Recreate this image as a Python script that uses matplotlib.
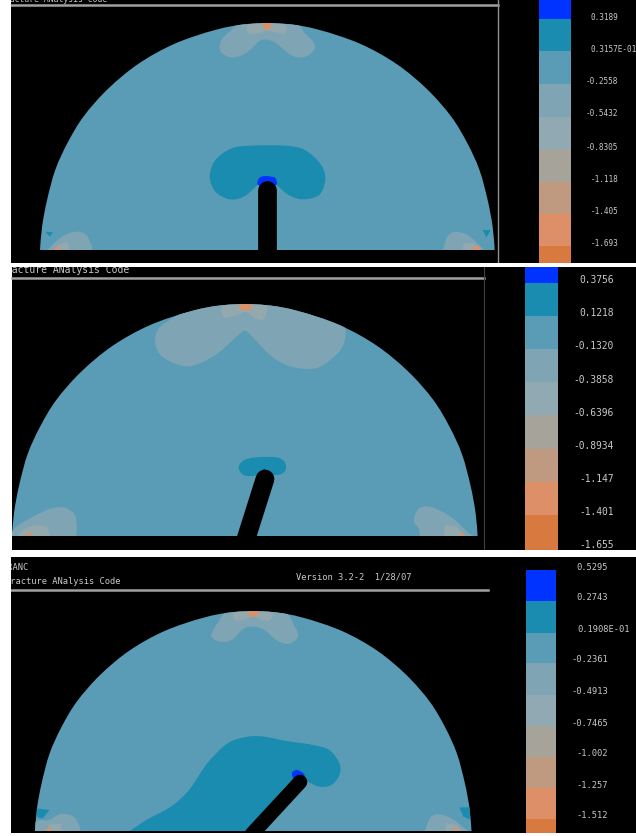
import matplotlib
matplotlib.use('Agg')
import matplotlib.pyplot as plt
from matplotlib.patches import Polygon, PathPatch, Rectangle
from matplotlib.path import Path

# contour colours, top of the colour bar to the bottom
band_colors = ['#0033ff', '#1a8cb0', '#5a9bb5', '#7fa5b5', '#90a9b2',
               '#a5a39a', '#c09a80', '#dd9068', '#d87a40']
BG = '#5a9bb5'
TEAL = '#1a8cb0'
BLUE = '#0033ff'
LOBE = '#7fa5b5'
PALE = '#93a9ae'
ORANGE = '#dd9068'
TXT = '#c9c9c9'
MONO = 'DejaVu Sans Mono'

# dome profile (left half, mirrored below)
dome_u = [-1.0, -0.991, -0.969, -0.933, -0.88, -0.809, -0.702, -0.567, -0.407, -0.228, -0.085]
dome_v = [0.0, 0.103, 0.221, 0.354, 0.472, 0.59, 0.712, 0.824, 0.913, 0.974, 1.0]

# everything below is in crop units: x / 2.46, y / 3 + crop offset
# ---- panel 1
p1_labels = ['0.3189', '0.3157E-01', '-0.2558', '-0.5432', '-0.8305', '-1.118', '-1.405', '-1.693']
p1_label_y = [17, 49, 82, 114, 147, 179, 211, 244]
p1_edges = [0, 19, 51, 84, 117, 149, 182, 214, 246, 264]
p1_lobes = [(545, 120), (541, 150), (560, 170), (585, 170), (610, 155), (640, 122), (660, 120), (680, 130),
            (715, 165), (745, 172), (770, 155), (773, 130), (750, 100), (720, 70), (600, 70), (565, 95)]
p1_inner = [(612, 100), (640, 98), (655, 92), (700, 100), (695, 72), (615, 72)]
p1_tip = [(645, 68), (668, 68), (665, 88), (650, 88)]
p1_teal = [(516, 530), (530, 480), (570, 445), (620, 437), (700, 437), (750, 450), (790, 495), (800, 540),
           (785, 585), (745, 598), (710, 585), (680, 555), (655, 540), (634, 555), (600, 590), (565, 598), (530, 575)]
p1_blue = [(637, 535), (650, 528), (668, 530), (678, 535), (678, 556), (636, 556)]
p1_left = [(118, 770), (125, 740), (160, 705), (195, 695), (218, 715), (220, 770)]
p1_left_in = [(135, 770), (140, 738), (165, 725), (178, 770)]
p1_left_tip = [(125, 760), (140, 738), (158, 760)]
p1_left_tri = [(112, 695), (130, 697), (122, 710)]
p1_right = [(1097, 770), (1097, 720), (1115, 697), (1150, 705), (1190, 750), (1195, 770)]
p1_right_in = [(1135, 770), (1140, 730), (1165, 730), (1190, 770)]
p1_right_tip = [(1150, 760), (1175, 735), (1190, 760)]
p1_right_tri = [(1187, 690), (1207, 690), (1197, 712)]

# ---- panel 2
p2_labels = ['0.3756', '0.1218', '-0.1320', '-0.3858', '-0.6396', '-0.8934', '-1.147', '-1.401', '-1.655']
p2_label_y = [280, 313.5, 346, 380, 413, 446, 479, 512, 545]
p2_edges = [267, 283, 316, 349, 382, 415, 449, 482, 515, 550]
p2_lobes = [(430, 165), (390, 200), (382, 245), (400, 285), (450, 312), (490, 305), (540, 270), (590, 215),
            (605, 207), (625, 230), (670, 285), (720, 315), (780, 318), (830, 275), (848, 235), (845, 190),
            (790, 140), (700, 115), (560, 115), (490, 125)]
p2_inner = [(550, 165), (580, 160), (605, 150), (630, 170), (650, 170), (650, 125), (555, 125)]
p2_tip = [(585, 124), (622, 124), (615, 145), (595, 145)]
p2_teal = [(587, 615), (600, 595), (630, 586), (680, 586), (700, 600), (703, 622), (690, 637), (660, 640),
           (640, 640), (610, 642), (595, 635)]
p2_blue = [(640, 630), (650, 620), (662, 632), (640, 640)]
p2_left = [(25, 840), (35, 800), (80, 765), (130, 738), (165, 740), (187, 770), (170, 840)]
p2_left_in = [(45, 840), (55, 805), (90, 790), (118, 800), (115, 840)]
p2_left_tip = [(55, 830), (70, 810), (85, 830)]
p2_right = [(1018, 775), (1030, 740), (1060, 735), (1110, 765), (1150, 810), (1175, 840), (1050, 840), (1030, 800)]
p2_right_in = [(1090, 840), (1095, 790), (1125, 795), (1155, 840)]
p2_right_tip = [(1125, 830), (1137, 810), (1148, 830)]

# ---- panel 3
p3_labels = ['0.5295', '0.2743', '0.1908E-01', '-0.2361', '-0.4913', '-0.7465', '-1.002', '-1.257', '-1.512']
p3_label_y = [568, 598, 630, 660, 692, 723, 753.5, 785, 815.5]
p3_edges = [570, 601, 633, 663, 695, 726, 757, 788, 819, 833]
p3_lobes = [(525, 240), (520, 260), (540, 275), (570, 270), (600, 235), (625, 230), (650, 240), (680, 270),
            (710, 282), (733, 260), (725, 230), (690, 180), (570, 180), (535, 220)]
p3_inner = [(580, 212), (610, 205), (625, 200), (660, 213), (665, 182), (580, 182)]
p3_tip = [(608, 180), (638, 180), (632, 200), (615, 200)]
p3_teal = [(290, 860), (320, 842), (360, 810), (420, 770), (465, 720), (510, 640), (560, 580), (610, 560),
           (650, 560), (700, 572), (770, 585), (810, 600), (835, 640), (835, 675), (815, 705), (785, 710),
           (755, 695), (720, 690), (660, 770), (610, 860)]
p3_blue = [(718, 670), (730, 660), (748, 672), (745, 685), (725, 688)]
p3_left = [(80, 860), (88, 815), (120, 810), (150, 792), (185, 805), (190, 860)]
p3_left_in = [(105, 860), (120, 825), (150, 820), (155, 860)]
p3_left_tip = [(110, 850), (120, 830), (132, 850)]
p3_left_tri = [(88, 775), (122, 780), (105, 805), (92, 802)]
p3_right = [(1055, 860), (1055, 810), (1075, 793), (1110, 805), (1150, 842), (1165, 860)]
p3_right_in = [(1095, 860), (1098, 820), (1125, 825), (1145, 860)]
p3_right_tip = [(1112, 850), (1122, 830), (1135, 850)]
p3_right_tri = [(1130, 772), (1157, 772), (1155, 808), (1140, 800)]

KX = 2.46


def px(points, off):
    return [(x / KX, y / 3 + off) for x, y in points]


def spline(points, closed=True):
    # catmull-rom through the outline points, as bezier segments
    n = len(points)
    verts = [points[0]]
    codes = [Path.MOVETO]
    for i in range(n if closed else n - 1):
        if closed:
            p0, p1, p2, p3 = points[i - 1], points[i], points[(i + 1) % n], points[(i + 2) % n]
        else:
            p0, p1, p2, p3 = points[max(i - 1, 0)], points[i], points[i + 1], points[min(i + 2, n - 1)]
        verts.append((p1[0] + (p2[0] - p0[0]) / 6, p1[1] + (p2[1] - p0[1]) / 6))
        verts.append((p2[0] - (p3[0] - p1[0]) / 6, p2[1] - (p3[1] - p1[1]) / 6))
        verts.append(p2)
        codes += [Path.CURVE4, Path.CURVE4, Path.CURVE4]
    if not closed:
        verts.append(points[0])
        codes.append(Path.CLOSEPOLY)
    return Path(verts, codes)


def draw_dome(ax, left, right, top, base):
    cx = (left + right) / 2
    hw = (right - left) / 2
    xs = [cx + u * hw for u in dome_u] + [cx - u * hw for u in dome_u[::-1]]
    ys = [base - v * (base - top) for v in dome_v] + [base - v * (base - top) for v in dome_v[::-1]]
    dome = PathPatch(spline(list(zip(xs, ys)), closed=False), fc=BG, ec='none', zorder=2)
    ax.add_patch(dome)
    return dome


def add_shape(ax, points, off, color, dome, zorder=3):
    pts = px(points, off)
    if len(pts) > 4:
        p = PathPatch(spline(pts), fc=color, ec='none', zorder=zorder)
    else:
        p = Polygon(pts, closed=True, fc=color, ec='none', zorder=zorder)
    ax.add_patch(p)
    p.set_clip_path(dome)


def colorbar(ax, x0, x1, edges, labels, label_y, right, size, extra):
    for i in range(len(edges) - 1):
        ax.bar((x0 + x1) / 2, edges[i + 1] - edges[i], width=x1 - x0, bottom=edges[i],
               color=band_colors[i], zorder=2)
    for lab, y in zip(labels, label_y):
        xr = right + extra if 'E-' in lab else right
        ax.text(xr, y, lab, color=TXT, fontsize=size, family=MONO, ha='right', va='center', zorder=6)


fig = plt.figure(figsize=(6.36, 8.36), dpi=100, facecolor='white')
ax = fig.add_axes([0, 0, 1, 1])
ax.set_xlim(0, 636)
ax.set_ylim(836, 0)
ax.axis('off')

# black screens
ax.add_patch(Rectangle((11, 0), 625, 263, fc='black', ec='none', zorder=1))
ax.add_patch(Rectangle((12, 267), 624, 283, fc='black', ec='none', zorder=1))
ax.add_patch(Rectangle((11, 557), 625, 276, fc='black', ec='none', zorder=1))

# ---- panel 1
dome = draw_dome(ax, 40, 494.7, 24, 250)
for pts, col, z in [(p1_lobes, LOBE, 3), (p1_inner, PALE, 4), (p1_tip, ORANGE, 5), (p1_teal, TEAL, 3),
                    (p1_blue, BLUE, 4), (p1_left, LOBE, 3), (p1_left_in, PALE, 4), (p1_left_tip, ORANGE, 5),
                    (p1_left_tri, TEAL, 3), (p1_right, LOBE, 3), (p1_right_in, PALE, 4),
                    (p1_right_tip, ORANGE, 5), (p1_right_tri, TEAL, 3)]:
    add_shape(ax, pts, 0, col, dome, z)
ax.plot([267, 267], [250, 189.5], color='black', lw=13.5, solid_capstyle='round', zorder=6)
ax.add_patch(Rectangle((11, 250), 487, 13, fc='black', ec='none', zorder=7))
ax.plot([11, 498], [5, 5], color='#a0a0a0', lw=1.8, zorder=7)
ax.plot([498, 498], [0, 263], color='#909090', lw=1, zorder=7)
ax.text(0, -1, 'Fracture ANalysis Code', color=TXT, fontsize=5.8, family=MONO, va='center', zorder=7)
colorbar(ax, 539, 571, p1_edges, p1_labels, p1_label_y, 618, 5.6, 19)

# ---- panel 2
dome = draw_dome(ax, 12, 477.6, 305, 536)
for pts, col, z in [(p2_lobes, LOBE, 3), (p2_inner, PALE, 4), (p2_tip, ORANGE, 5), (p2_teal, TEAL, 3),
                    (p2_blue, BLUE, 4), (p2_left, LOBE, 3), (p2_left_in, PALE, 4), (p2_left_tip, ORANGE, 5),
                    (p2_right, LOBE, 3), (p2_right_in, PALE, 4), (p2_right_tip, ORANGE, 5)]:
    add_shape(ax, pts, 262, col, dome, z)
ax.plot([246.3, 265], [538, 479], color='black', lw=13.5, solid_capstyle='round', zorder=6)
ax.add_patch(Rectangle((12, 536), 466, 14, fc='black', ec='none', zorder=7))
ax.plot([12, 484], [278, 278], color='#a0a0a0', lw=1.8, zorder=7)
ax.plot([484, 484], [267, 550], color='#404040', lw=0.8, zorder=7)
ax.text(0, 270, 'Fracture ANalysis Code', color=TXT, fontsize=7, family=MONO, va='center', zorder=2)
ax.text(320, 263.5, 'Version 3.2-2  1/28/07', color=TXT, fontsize=6.3, family=MONO, va='center', zorder=2)
colorbar(ax, 525, 558, p2_edges, p2_labels, p2_label_y, 614, 6.9, 24)

# ---- panel 3
dome = draw_dome(ax, 35, 471.5, 612, 831)
for pts, col, z in [(p3_lobes, LOBE, 3), (p3_inner, PALE, 4), (p3_tip, ORANGE, 5), (p3_teal, TEAL, 3),
                    (p3_blue, BLUE, 4), (p3_left, LOBE, 3), (p3_left_in, PALE, 4), (p3_left_tip, ORANGE, 5),
                    (p3_left_tri, TEAL, 3), (p3_right, LOBE, 3), (p3_right_in, PALE, 4),
                    (p3_right_tip, ORANGE, 5), (p3_right_tri, TEAL, 3)]:
    add_shape(ax, pts, 550, col, dome, z)
ax.plot([252, 300], [834, 782], color='black', lw=10.5, solid_capstyle='round', zorder=6)
ax.plot([11, 488], [590, 590], color='#a0a0a0', lw=1.8, zorder=7)
ax.text(1.8, 568, 'FRANC', color=TXT, fontsize=6.3, family=MONO, va='center', zorder=2)
ax.text(4.6, 581, 'Fracture ANalysis Code', color=TXT, fontsize=6.3, family=MONO, va='center', zorder=2)
ax.text(296, 577, 'Version 3.2-2  1/28/07', color=TXT, fontsize=6.3, family=MONO, va='center', zorder=2)
colorbar(ax, 526, 556, p3_edges, p3_labels, p3_label_y, 608, 6.3, 22)

# white gaps and margin between the screenshots
ax.add_patch(Rectangle((0, 263), 636, 4, fc='white', ec='none', zorder=8))
ax.add_patch(Rectangle((0, 550), 636, 7, fc='white', ec='none', zorder=8))
ax.add_patch(Rectangle((0, 833), 636, 3, fc='white', ec='none', zorder=8))
ax.add_patch(Rectangle((0, 0), 11, 836, fc='white', ec='none', zorder=8))

fig.savefig('out.png', dpi=100, facecolor='white')
